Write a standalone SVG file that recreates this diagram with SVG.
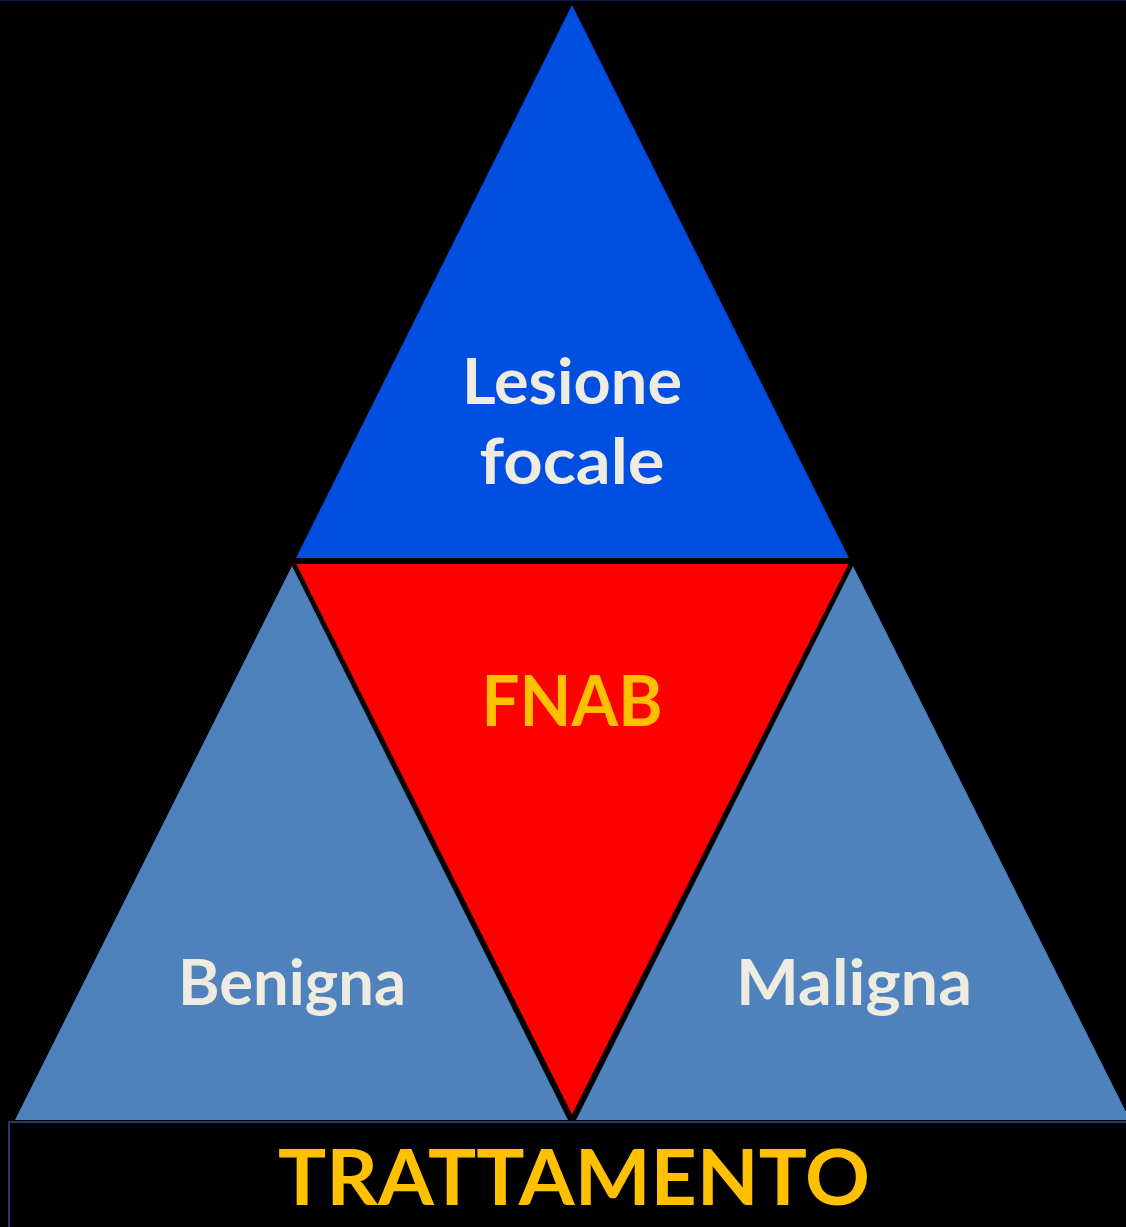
<svg xmlns="http://www.w3.org/2000/svg" width="1126" height="1227" viewBox="0 0 1126 1227">
<style>
.t{font-family:"Comic Sans MS","Lato","DejaVu Sans",sans-serif;font-weight:bold;text-anchor:middle}
.w{fill:#EEEBE0}
.y{fill:#FFC000}
.lb{fill:#4F81BD}
</style>
<rect x="0" y="0" width="1126" height="1227" fill="#000"/>
<line x1="0" y1="0.5" x2="1126" y2="0.5" stroke="#0A1A4A" stroke-width="1"/>
<g id="lesione-focale">
<polygon points="572,5 849,558 296,558" fill="#004FE1"/>
<text class="t w" x="572" y="404" font-size="64" textLength="220" lengthAdjust="spacingAndGlyphs">Lesione</text>
<text class="t w" x="572" y="484" font-size="64" textLength="185" lengthAdjust="spacingAndGlyphs">focale</text>
</g>
<g id="benigna">
<polygon points="292,566 568,1120 15,1120" fill="#4F81BD"/>
<text class="t w" x="292" y="1005" font-size="64" textLength="228" lengthAdjust="spacingAndGlyphs">Benigna</text>
</g>
<g id="maligna">
<polygon points="853,566 1130,1120 576,1120" fill="#4F81BD"/>
<text class="t w" x="854" y="1005" font-size="64" textLength="236" lengthAdjust="spacingAndGlyphs">Maligna</text>
</g>
<g id="fnab">
<polygon points="293,562 852,562 572,1119" fill="#FF0000" stroke="#000" stroke-width="4" stroke-linejoin="miter"/>
<text class="t y" x="572" y="726" font-size="70" textLength="181" lengthAdjust="spacingAndGlyphs">FNAB</text>
</g>
<g id="trattamento">
<rect x="9" y="1122" width="1130" height="120" fill="#000" stroke="#1F3D6B" stroke-width="2"/>
<text class="t y" x="574" y="1205" font-size="76" textLength="592" lengthAdjust="spacingAndGlyphs">TRATTAMENTO</text>
</g>
<g id="connectors"/>
</svg>
